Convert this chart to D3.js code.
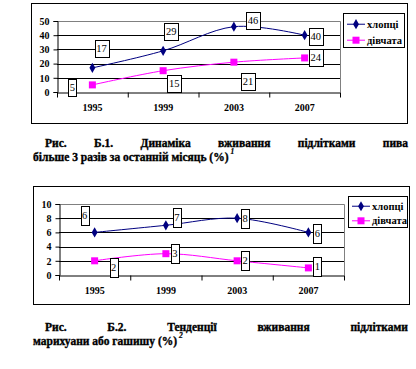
<!DOCTYPE html>
<meta charset="utf-8">
<body style="margin:0;background:#fff">
<svg id="fig" width="416" height="369"></svg>
</body>

<style>
svg text { font-family: "Liberation Serif", "Times New Roman", serif; fill: #000; }
.ax text { font-weight: bold; font-size: 10px; }
.lbl { font-size: 10.5px; }
.leg { font-weight: bold; font-size: 10.5px; }
.cap { font-weight: bold; font-size: 11.5px; stroke: #000; stroke-width: 0.35px; }
</style>

<script src="https://d3js.org/d3.v7.min.js"></script>
<script>

// дані
var years = ["1995", "1999", "2003", "2007"];
var seriesNames = ["хлопці", "дівчата"];

var boysBeer = [17, 29, 46, 40];
var girlsBeer = [5, 15, 21, 24];
var ticksBeer = [0, 10, 20, 30, 40, 50];

var boysWeed = [6, 7, 8, 6];
var girlsWeed = [2, 3, 2, 1];
var ticksWeed = [0, 2, 4, 6, 8, 10];

var caption1 = ["Рис. Б.1. Динаміка вживання підлітками пива", "більше 3 разів за останній місяць (%)"];
var caption2 = ["Рис. Б.2. Тенденції вживання підлітками", "марихуани або гашишу (%)"];
var captionNotes = ["1", "2"];

var svg = d3.select("#fig");
var navy = "#000080", pink = "#ff00ff";
var serif = "Liberation Serif";

// розміщення підписів (зсуви від точки, px)
var charts = [
  {
    frame: [31, 3, 407, 123], plot: [57, 21, 340, 92],
    max: 50, ticks: ticksBeer, series: [boysBeer, girlsBeer],
    offs: [[[9, -19], [8, -19], [19, -6], [11, 1]], [[-20, 3], [11, 13], [14, 19], [11, 0]]],
    boxH: 17, legend: [343, 13, 404, 47],
    caption: caption1, note: captionNotes[0], capY: 147
  },
  {
    frame: [33, 186, 409, 304], plot: [59, 204, 344, 275],
    max: 10, ticks: ticksWeed, series: [boysWeed, girlsWeed],
    offs: [[[-10, -17], [11, -8], [8, 0], [9, 1]], [[19, 7], [9, 0], [8, 0], [9, -1]]],
    boxH: 19, legend: [348, 196, 407, 227],
    caption: caption2, note: captionNotes[1], capY: 331
  }
];

charts.forEach(drawChart);

function marker(g, i, x, y) {
  if (i == 0) {
    g.append("path").attr("d", d3.symbol(d3.symbolDiamond, 30)())
      .attr("transform", "translate(" + x + "," + y + ")").attr("fill", navy);
  } else {
    g.append("rect").attr("x", x - 3.5).attr("y", y - 3.5)
      .attr("width", 7).attr("height", 7).attr("fill", pink);
  }
}

function drawChart(c) {
  var g = svg.append("g");
  var f = c.frame, p = c.plot;

  g.append("rect").attr("x", f[0] + 0.5).attr("y", f[1] + 0.5)
    .attr("width", f[2] - f[0]).attr("height", f[3] - f[1])
    .attr("fill", "#fff").attr("stroke", "#000");

  var x = d3.scaleBand().domain(years).range([p[0], p[2]]);
  var y = d3.scaleLinear().domain([0, c.max]).range([p[3], p[1]]);

  // сітка
  g.append("g").selectAll("line").data(c.ticks.slice(1, -1)).enter().append("line")
    .attr("x1", p[0]).attr("x2", p[2])
    .attr("y1", d => Math.round(y(d)) + 0.5).attr("y2", d => Math.round(y(d)) + 0.5)
    .attr("stroke", "#000");
  g.append("path")
    .attr("d", "M" + p[0] + "," + (p[1] + 0.5) + "H" + (p[2] + 0.5) + "V" + p[3])
    .attr("fill", "none").attr("stroke", "#808080");

  g.append("g").attr("class", "ax")
    .attr("transform", "translate(" + (p[0] + 0.5) + ",0)")
    .call(d3.axisLeft(y).tickValues(c.ticks).tickSize(4).tickPadding(4));
  var xa = g.append("g").attr("class", "ax")
    .attr("transform", "translate(0," + (Math.round(p[3]) + 0.5) + ")")
    .call(d3.axisBottom(x).tickSize(0).tickPadding(11));
  g.selectAll(".ax").attr("font-family", serif).attr("font-size", null);
  g.selectAll(".ax path, .ax line").attr("stroke", "#000");
  // засічки між категоріями
  xa.selectAll(".sep").data(d3.range(years.length + 1)).enter().append("line")
    .attr("x1", i => p[0] + 0.5 + i * x.step()).attr("x2", i => p[0] + 0.5 + i * x.step())
    .attr("y1", 0).attr("y2", 5).attr("stroke", "#000");

  var line = d3.line().curve(d3.curveCardinal.tension(0))
    .x((d, i) => x(years[i]) + x.bandwidth() / 2).y(d => y(d));

  c.series.forEach(function(s, k) {
    g.append("path").datum(s).attr("d", line)
      .attr("fill", "none").attr("stroke", k == 0 ? navy : pink).attr("stroke-width", 1);
    s.forEach((v, i) => marker(g, k, x(years[i]) + x.bandwidth() / 2, y(v)));
  });

  // підписи значень
  c.series.forEach(function(s, k) {
    s.forEach(function(v, i) {
      var cx = x(years[i]) + x.bandwidth() / 2 + c.offs[k][i][0];
      var cy = y(v) + c.offs[k][i][1];
      var t = g.append("text").attr("class", "lbl")
        .attr("x", cx).attr("y", cy + 3.5).attr("text-anchor", "middle").text(v);
      var w = t.node().getComputedTextLength() + 3;
      g.insert("rect", function() { return t.node(); })
        .attr("x", Math.round(cx - w / 2) + 0.5).attr("y", Math.round(cy - c.boxH / 2) + 0.5)
        .attr("width", Math.round(w)).attr("height", c.boxH)
        .attr("fill", "#fff").attr("stroke", "#000");
    });
  });

  // легенда
  var L = c.legend;
  g.append("rect").attr("x", L[0] + 0.5).attr("y", L[1] + 0.5)
    .attr("width", L[2] - L[0]).attr("height", L[3] - L[1])
    .attr("fill", "#fff").attr("stroke", "#000");
  seriesNames.forEach(function(n, k) {
    var ly = L[1] + (L[3] - L[1]) * (k == 0 ? 0.33 : 0.8);
    g.append("line").attr("x1", L[0] + 4).attr("x2", L[0] + 22).attr("y1", ly).attr("y2", ly)
      .attr("stroke", k == 0 ? navy : pink);
    marker(g, k, L[0] + 13, ly);
    g.append("text").attr("class", "leg").attr("x", L[0] + 24).attr("y", ly + 3.5).text(n);
  });

  // підпис рисунка
  justify(c.caption[0], 45, 408, c.capY);
  var t2 = svg.append("text").attr("class", "cap")
    .attr("x", 33).attr("y", c.capY + 14).text(c.caption[1]);
  var w2 = t2.node().getComputedTextLength();
  svg.append("text").attr("class", "cap")
    .attr("x", 33 + w2 + 2).attr("y", c.capY + 7)
    .style("font-size", "7.5px").style("font-style", "italic").style("stroke-width", "0.2px")
    .text(c.note);
}

function justify(str, x0, x1, yy) {
  var words = str.split(" ");
  var nodes = words.map(w => svg.append("text").attr("class", "cap").attr("y", yy).text(w));
  var widths = nodes.map(n => n.node().getComputedTextLength());
  var gap = (x1 - x0 - d3.sum(widths)) / (words.length - 1);
  var cx = x0;
  nodes.forEach(function(n, i) { n.attr("x", cx); cx += widths[i] + gap; });
}

</script>
